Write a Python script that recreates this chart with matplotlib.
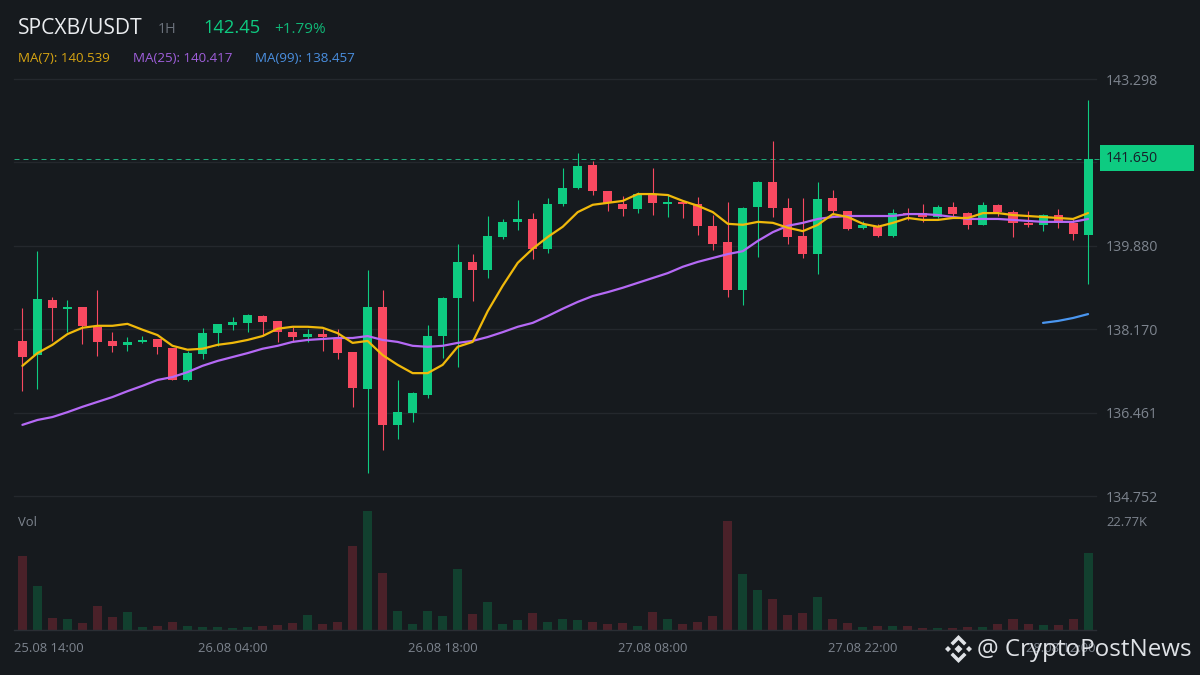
import matplotlib
matplotlib.use("Agg")
import matplotlib.pyplot as plt
from matplotlib.patches import Rectangle, Polygon

opens = [137.93,137.64,138.77,138.59,138.63,138.22,137.93,137.85,137.91,137.97,137.79,137.13,137.66,138.09,138.26,138.30,138.44,138.34,138.11,138.01,
         138.07,137.99,137.70,136.95,138.63,136.21,136.45,136.82,138.03,138.81,139.55,139.39,140.06,140.37,140.43,139.82,140.74,141.07,141.54,141.01,
         140.74,140.64,140.94,140.74,140.78,140.74,140.29,139.96,138.97,140.68,141.19,140.66,140.08,139.71,140.86,140.59,140.25,140.27,140.08,140.55,
         140.55,140.47,140.68,140.55,140.31,140.72,140.57,140.35,140.31,140.51,140.35,140.10]
closes = [137.60,138.79,138.61,138.63,138.24,137.91,137.83,137.91,137.95,137.81,137.13,137.68,138.09,138.28,138.32,138.46,138.32,138.11,138.01,138.07,
          138.01,137.68,136.97,138.63,136.21,136.47,136.86,138.03,138.81,139.55,139.39,140.08,140.37,140.43,139.82,140.74,141.07,141.52,141.01,140.76,
          140.64,140.94,140.76,140.78,140.74,140.29,139.92,138.97,140.66,141.19,140.66,140.06,139.71,140.84,140.59,140.22,140.31,140.08,140.55,140.51,
          140.47,140.68,140.53,140.31,140.72,140.57,140.35,140.31,140.51,140.35,140.12,141.65]
highs = [138.61,139.77,138.83,138.77,138.63,138.97,138.11,138.01,138.03,137.97,137.79,137.72,138.20,138.28,138.42,138.48,138.46,138.34,138.22,138.18,
         138.18,138.18,137.70,139.39,138.97,137.13,136.88,138.26,138.83,139.92,139.71,140.49,140.43,140.82,140.55,140.86,141.48,141.79,141.62,141.01,
         140.90,140.98,141.48,140.94,140.78,140.88,140.51,140.78,140.68,141.21,142.03,140.86,140.86,141.19,141.02,140.59,140.39,140.33,140.63,140.66,
         140.74,140.72,140.78,140.57,140.78,140.74,140.61,140.59,140.53,140.63,140.43,142.87]
lows = [136.90,136.95,137.93,138.11,137.87,137.62,137.70,137.72,137.89,137.66,137.13,137.11,137.56,137.83,138.16,138.11,138.03,137.91,137.91,137.91,
        137.72,137.56,136.58,135.22,135.70,135.92,136.27,136.76,137.58,137.40,138.75,139.22,140.02,140.20,139.61,139.73,140.70,141.05,140.92,140.59,
        140.49,140.55,140.51,140.47,140.45,140.10,139.80,138.83,138.67,139.65,140.47,139.92,139.63,139.30,140.51,140.20,140.22,140.06,140.06,140.41,
        140.37,140.45,140.45,140.22,140.31,140.49,140.06,140.27,140.18,140.25,140.00,139.10]
volumes = [15.4,9.1,2.6,2.2,1.5,5.1,2.8,3.8,0.7,0.9,1.7,0.9,0.7,0.7,0.5,0.7,0.9,1.1,1.5,3.2,
           1.3,1.7,17.5,24.8,12.0,4.0,1.3,4.0,3.0,12.8,3.4,5.9,1.3,2.0,3.6,1.7,2.2,2.0,1.7,1.3,
           1.5,0.9,3.8,2.2,1.3,1.7,3.0,22.7,11.8,8.4,6.4,3.2,3.6,6.8,2.4,1.5,0.7,0.9,0.9,0.9,
           0.5,0.5,0.5,0.7,0.7,1.3,2.4,1.3,1.1,1.1,2.2,16.0]
ma7 = [137.42,137.68,137.85,138.07,138.20,138.24,138.24,138.28,138.16,138.05,137.83,137.75,137.77,137.85,137.89,137.95,138.03,138.18,138.22,138.22,
       138.20,138.09,137.89,137.93,137.64,137.44,137.27,137.27,137.44,137.81,137.91,138.54,139.06,139.53,139.82,140.06,140.27,140.57,140.72,140.76,
       140.80,140.94,140.94,140.92,140.80,140.70,140.57,140.33,140.31,140.37,140.35,140.25,140.18,140.31,140.53,140.47,140.33,140.27,140.35,140.45,
       140.41,140.41,140.45,140.45,140.55,140.55,140.51,140.49,140.47,140.45,140.43,140.55]
ma25 = [136.21,136.31,136.37,136.47,136.58,136.68,136.78,136.90,137.01,137.13,137.19,137.29,137.42,137.52,137.60,137.68,137.77,137.83,137.91,137.95,
        137.97,137.99,137.99,138.03,137.95,137.91,137.83,137.81,137.83,137.89,137.93,138.01,138.11,138.22,138.30,138.44,138.59,138.73,138.85,138.93,
        139.02,139.12,139.22,139.32,139.45,139.55,139.63,139.71,139.77,139.98,140.16,140.29,140.35,140.43,140.47,140.49,140.49,140.49,140.49,140.53,
        140.53,140.51,140.47,140.43,140.43,140.43,140.41,140.39,140.37,140.37,140.37,140.43]
ma99 = [138.30,138.34,138.40,138.48]
ma99_index = [68,69,70,71]

price_ticks = [143.298,141.589,139.880,138.170,136.461,134.752]
price_labels = ["143.298","","139.880","138.170","136.461","134.752"]
last_price = 141.650
vol_tick = 22.77
vol_label = "22.77K"
date_labels = ["25.08 14:00","26.08 04:00","26.08 18:00","27.08 08:00","27.08 22:00","28.08 12:00"]
date_index = [14,28,42,56]

BG = "#161a1e"; GRID = "#24282d"; TXT = "#7d848e"
UP = "#0ecb81"; DOWN = "#f84960"; UPV = "#12402f"; DOWNV = "#4a2129"
plt.rcParams["font.family"] = ["Open Sans", "DejaVu Sans"]

W, H = 1200, 675
fig = plt.figure(figsize=(12, 6.75), dpi=100, facecolor=BG)
def box(l, t, r, b):
    return [l/W, 1-b/H, (r-l)/W, (b-t)/H]
def ftext(x, y, s, **k):
    k.setdefault("va", "center")
    return fig.text(x/W, 1-y/H, s, **k)

n = len(opens)
xs = list(range(n))
xlim = (-0.56, 71.53)
ax = fig.add_axes(box(14, 79, 1096, 496), facecolor=BG)
vx = fig.add_axes(box(14, 511, 1096, 630), facecolor="none")
for a in (ax, vx):
    a.set_xlim(*xlim)
    for s in a.spines.values():
        s.set_visible(False)
    a.yaxis.tick_right()
    a.tick_params(axis="y", length=0, pad=7.2, labelsize=10.2, labelcolor=TXT)

ax.set_ylim(price_ticks[-1], price_ticks[0])
ax.set_yticks(price_ticks, price_labels)
ax.set_xticks([])
ax.grid(axis="y", color=GRID, lw=1.0, clip_on=False)
ax.set_axisbelow(True)
for t in ax.yaxis.get_gridlines():
    t.set_clip_on(False)

colors = [UP if c >= o else DOWN for o, c in zip(opens, closes)]
vcolors = [UPV if c >= o else DOWNV for o, c in zip(opens, closes)]
ax.vlines(xs, lows, highs, colors=colors, lw=0.8, zorder=2)
ax.bar(xs, [abs(c-o) for o, c in zip(opens, closes)], bottom=[min(o, c) for o, c in zip(opens, closes)],
       width=0.6, color=colors, lw=0, zorder=3)
ax.plot(xs, ma25, color="#b569f5", lw=1.6, zorder=4, solid_capstyle="round")
ax.plot(xs, ma7, color="#f0b90b", lw=1.6, zorder=5, solid_capstyle="round")
ax.plot(ma99_index, ma99, color="#4a96f0", lw=1.6, zorder=5, solid_capstyle="round")
ax.plot([xlim[0], xlim[1] + 0.27], [last_price, last_price], color="#1fa878", lw=0.72,
        ls=(0, (5, 4)), zorder=1, clip_on=False)

fig.add_artist(Rectangle((1100/W, 1-171/H), 94/W, 26/H, transform=fig.transFigure, color=UP, lw=0))
ftext(1106, 158.5, f"{last_price:.3f}", color="#16202a", fontsize=10.2)

vx.set_ylim(0, vol_tick*119/109)
vx.bar(xs, volumes, width=0.6, color=vcolors, lw=0)
vx.set_yticks([vol_tick], [vol_label])
vx.tick_params(axis="y", labelsize=9.4)
vx.spines["bottom"].set_visible(True)
vx.spines["bottom"].set_color("#2a2e34")
vx.spines["bottom"].set_linewidth(1.0)
vx.set_xticks([xlim[0]] + date_index + [xlim[1]], date_labels)
vx.tick_params(axis="x", length=0, pad=9, labelsize=9.4, labelcolor=TXT)
labs = vx.get_xticklabels()
labs[0].set_ha("left")
labs[-1].set_ha("right")

ftext(18, 28, "SPCXB/USDT", color="#eaecef", fontsize=15.25)
ftext(158, 29.5, "1H", color="#6a717b", fontsize=10.4)
ftext(203, 28, "142.45", color=UP, fontsize=13.2)
ftext(274, 29.5, "+1.79%", color="#10b777", fontsize=11)
ftext(18, 58, "MA(7): 140.539", color="#d8a512", fontsize=9.6)
ftext(133, 58, "MA(25): 140.417", color="#a05fdc", fontsize=9.6)
ftext(255, 58, "MA(99): 138.457", color="#4a8fe0", fontsize=9.6)
ftext(18, 522, "Vol", color=TXT, fontsize=9.4)

# watermark
ftext(977, 650, "@ CryptoPostNews", color="#dfe2e6", fontsize=17.4)
cx, cy = 958.5, 649
def poly(pts):
    fig.add_artist(Polygon([((cx+x)/W, 1-(cy+y)/H) for x, y in pts], closed=True,
                           transform=fig.transFigure, color="#dfe2e6", lw=0))
poly([(0,-4),(4,0),(0,4),(-4,0)])
poly([(-13.5,0),(-10.5,-3),(-7.5,0),(-10.5,3)])
poly([(13.5,0),(10.5,-3),(7.5,0),(10.5,3)])
poly([(0,-14),(8,-6),(5.5,-3.5),(0,-9),(-5.5,-3.5),(-8,-6)])
poly([(0,14),(8,6),(5.5,3.5),(0,9),(-5.5,3.5),(-8,6)])

fig.savefig("out.png", dpi=100, facecolor=BG)
